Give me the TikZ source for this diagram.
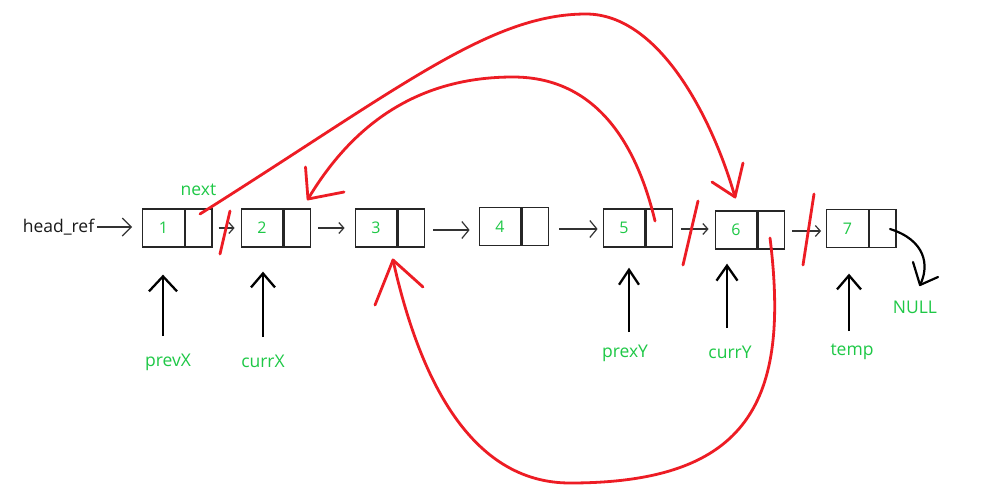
\documentclass[tikz,border=0pt]{standalone}
\usepackage{fontspec}
\setmainfont{Open Sans}
\usetikzlibrary{arrows.meta,calc}
\definecolor{grn}{RGB}{30,200,70}
\definecolor{rd}{RGB}{237,28,36}
\begin{document}
\begin{tikzpicture}[x=1pt,y=-1pt,
  val/.style={draw=black!85, line width=1.3pt, minimum width=41.5pt, minimum height=38pt,
    inner sep=0pt, text=grn, font=\fontsize{16}{16}\selectfont},
  ptr/.style={draw=black!85, line width=1.3pt, minimum width=26.5pt, minimum height=38pt,
    inner sep=0pt, anchor=west},
  link/.style={draw=black!80, line width=1.2pt, -{Straight Barb[length=5pt,width=11pt]}},
  biglink/.style={link, -{Straight Barb[length=7pt,width=17pt]}},
  up/.style={draw=black, line width=2.3pt, -{Straight Barb[length=14pt,width=24pt]}},
  redl/.style={draw=rd, line width=2.8pt, line cap=round, line join=round},
  lab/.style={text=grn, font=\fontsize{17.5}{17.5}\selectfont, inner sep=0pt},
  ]
\useasboundingbox (0,0) rectangle (1003,498);
\fill[white] (0,0) rectangle (1003,498);

% list cells
\node[val] (v1) at (163.5,228) {1};
\node[ptr] (p1) at (v1.east) {};
\node[val] (v2) at (262,228) {2};
\node[ptr] (p2) at (v2.east) {};
\node[val] (v3) at (376,228) {3};
\node[ptr] (p3) at (v3.east) {};
\node[val] (v4) at (500,226.5) {4};
\node[ptr] (p4) at (v4.east) {};
\node[val] (v5) at (624,228) {5};
\node[ptr] (p5) at (v5.east) {};
\node[val] (v6) at (736,230) {6};
\node[ptr] (p6) at (v6.east) {};
\node[val] (v7) at (847.5,228.5) {7};
\node[ptr] (p7) at (v7.east) {};

% texts
\node[font=\fontsize{17.5}{17.5}\selectfont, text=black!90, inner sep=0pt] (head) at (58.5,227) {head\_ref};
\node[lab] (next) at (198.5,190) {next};
\node[lab] (prevX) at (168,362) {prevX};
\node[lab] (currX) at (263,361) {currX};
\node[lab] (prexY) at (625,353) {prexY};
\node[lab] (currY) at (730,352) {currY};
\node[lab] (temp) at (852,352) {temp};
\node[lab] (null) at (915,307) {NULL};

% black links
\draw[link, -{Straight Barb[length=9pt,width=18pt]}, shorten <=3pt, shorten >=10pt] (head.east) -- (head.east -| v1.west);
\draw[link, shorten <=6pt, shorten >=6pt] (p1.east) -- (p1.east -| v2.west);
\draw[link, shorten <=7pt, shorten >=10pt] (p2.east) -- (p2.east -| v3.west);
\draw[biglink, shorten <=8pt, shorten >=9pt] ($(p3.east)+(0,2)$) -- ($(p3.east -| v4.west)+(0,2)$);
\draw[biglink, shorten <=10pt, shorten >=5pt] ($(p4.east)+(0,2.5)$) -- ($(p4.east -| v5.west)+(0,2.5)$);
\draw[link, shorten <=8pt, shorten >=6pt] ($(p5.east)+(0,1)$) -- ($(p5.east -| v6.west)+(0,1)$);
\draw[link, shorten <=7pt, shorten >=5pt] ($(p6.east)+(0,1)$) -- ($(p6.east -| v7.west)+(0,1)$);

% pointer arrows from labels
\coordinate (a1) at (163,336);
\coordinate (a2) at (263,337);
\coordinate (a5) at (629,332);
\coordinate (a6) at (727,328);
\coordinate (a7) at (849,331);
\draw[up, -{Straight Barb[length=15pt,width=28pt]}, shorten >=27pt] (a1) -- (a1 |- v1.south);
\draw[up, shorten >=24pt] (a2) -- (a2 |- v2.south);
\draw[up, -{Straight Barb[length=15pt,width=20pt]}, shorten >=20pt] (a5) -- (a5 |- v5.south);
\draw[up, -{Straight Barb[length=15pt,width=21pt]}, shorten >=14pt] (a6) -- (a6 |- v6.south);
\draw[up, shorten >=25.5pt] (a7) -- (a7 |- v7.south);

% NULL arrow
\coordinate (n0) at (890,229);
\coordinate (tn) at (920,285);
\draw[draw=black, line width=2.2pt, line cap=round, line join=round]
  (n0) .. controls (925,240) and (930,265) .. (tn);
\draw[draw=black, line width=2.2pt, line cap=round, line join=round]
  ($(tn)+(-7,-23)$) -- (tn) -- ($(tn)+(18,-8)$);

% red slashes
\coordinate (r1a) at (220,254); \coordinate (r1b) at (230,211);
\coordinate (r2a) at (683,265); \coordinate (r2b) at (698,201);
\coordinate (r3a) at (803,265); \coordinate (r3b) at (814,194);
\draw[redl] (r1a) -- (r1b);
\draw[redl] (r2a) -- (r2b);
\draw[redl] (r3a) -- (r3b);

% red curve 1: node1.next -> node6
\coordinate (s1) at (200,214);
\coordinate (t1) at (735,197);
\draw[redl] (s1) .. controls (400,88) and (490,14) .. (586,14)
  .. controls (660,14) and (713,120) .. (t1);
\draw[redl] ($(t1)+(-23,-15)$) -- (t1) -- ($(t1)+(8,-34)$);

% red curve 2: node5.next -> node2
\coordinate (s2) at (655,221);
\coordinate (t2) at (308,199);
\draw[redl] (s2) .. controls (638,150) and (600,77) .. (513,77)
  .. controls (420,77) and (354,122) .. (t2);
\draw[redl] ($(t2)+(-2.5,-32)$) -- (t2) -- ($(t2)+(36,-7)$);

% red curve 3: node6.next -> node3
\coordinate (s3) at (770,238);
\coordinate (t3) at (393,260);
\draw[redl] (s3) .. controls (790,400) and (750,483) .. (570,483)
  .. controls (470,483) and (419,377) .. (t3);
\draw[redl] ($(t3)+(-18,45)$) -- (t3) -- ($(t3)+(30,27)$);
\end{tikzpicture}
\end{document}
